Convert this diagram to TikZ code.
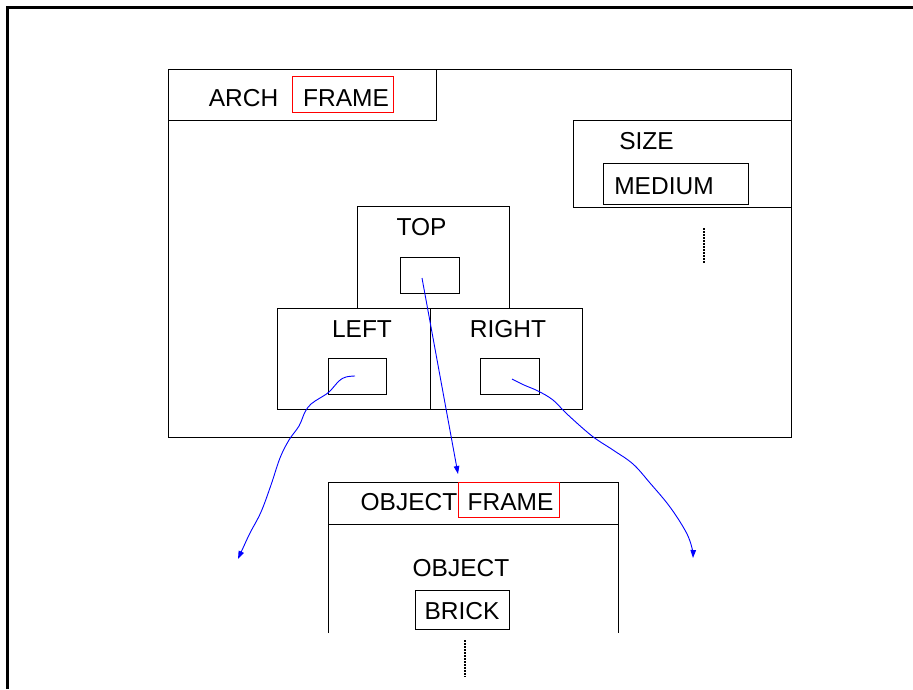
\documentclass[tikz,border=0pt]{standalone}
\usepackage{fontspec}
\setmainfont{Liberation Sans}
\usetikzlibrary{arrows.meta}
\tikzset{
  box/.style={draw, line width=1pt, inner sep=0pt, outer sep=0pt, anchor=north west},
  redbox/.style={box, draw=red, line width=0.9pt},
  open/.style={inner sep=0pt, outer sep=0pt, anchor=north west},
  lbl/.style={inner sep=0pt, outer sep=0pt, text height=18pt, text depth=0pt, font=\fontsize{24.5}{29}\selectfont},
  link/.style={draw=blue, line width=0.9pt, -{Triangle[length=8pt,width=5.5pt]}},
  dots/.style={line width=2pt, dash pattern=on 1.5pt off 1.5pt}
}
\begin{document}
\begin{tikzpicture}[x=1pt,y=-1pt]
\useasboundingbox (0,0) rectangle (913,689);
% outer frame (top and left edges only visible)
\coordinate (fbl) at (7.3,689);
\coordinate (ftl) at (7.3,7.7);
\coordinate (ftr) at (913,7.7);
\draw[line width=2.8pt] (fbl) -- (ftl) -- (ftr);

% ARCH frame
\node[box, minimum width=623, minimum height=368] (arch) at (168,69) {};
\node[box, minimum width=268, minimum height=51] (archhead) at (168,69) {};
\node[lbl] (archt) at (243.5,97) {ARCH};
\node[redbox, minimum width=101, minimum height=36] (archred) at (292,76) {};
\node[lbl] (archframe) at (346,97) {FRAME};

% SIZE slot
\node[box, minimum width=218, minimum height=87] (size) at (573,120) {};
\node[lbl] (sizet) at (646.5,140) {SIZE};
\node[box, minimum width=145, minimum height=41] (medium) at (603,163) {};
\node[lbl] (mediumt) at (664,185) {MEDIUM};
\coordinate (d1a) at (704,228);
\coordinate (d1b) at (704,264);
\draw[dots] (d1a) -- (d1b);

% TOP
\node[box, minimum width=152, minimum height=102] (top) at (357,206) {};
\node[lbl] (topt) at (421.5,226.5) {TOP};
\node[box, minimum width=59, minimum height=36] (topin) at (400,257) {};

% LEFT
\node[box, minimum width=153, minimum height=101] (left) at (277,308) {};
\node[lbl] (leftt) at (362,328.5) {LEFT};
\node[box, minimum width=58, minimum height=36] (leftin) at (328,358) {};

% RIGHT
\node[box, minimum width=152, minimum height=101] (right) at (430,308) {};
\node[lbl] (rightt) at (508,328.5) {RIGHT};
\node[box, minimum width=59, minimum height=36] (rightin) at (480,358) {};

% OBJECT frame (open at bottom)
\node[open, minimum width=290, minimum height=151] (obj) at (328,482) {};
\draw[line width=1pt] (obj.south west) -- (obj.north west) -- (obj.north east) -- (obj.south east);
\node[open, minimum width=290, minimum height=42] (objhead) at (328,482) {};
\draw[line width=1pt] (objhead.south west) -- (objhead.south east);
\node[lbl] (objt) at (409,501.5) {OBJECT};
\node[redbox, minimum width=101, minimum height=35] (objred) at (458,482) {};
\node[lbl] (objframe) at (510.5,501.5) {FRAME};
\node[lbl] (objslot) at (461,567) {OBJECT};
\node[box, minimum width=94, minimum height=39] (brick) at (415,590) {};
\node[lbl] (brickt) at (462,610.5) {BRICK};
\coordinate (d2a) at (465,640);
\coordinate (d2b) at (465,677);
\draw[dots] (d2a) -- (d2b);

% links
\coordinate (ts) at (422,278);
\coordinate (te) at (458,474);
\draw[link] (ts) -- (te);

\coordinate (ls) at (355,376);
\coordinate (le) at (238,559);
\draw[link] plot[smooth, tension=0.6] coordinates {(ls) (346,377) (339,381) (329,392) (320,398) (311,404) (305,412) (299,426) (289,440) (280,458) (271,485) (261,512) (250,533) (243,548) (le)};

\coordinate (rs) at (512,379);
\coordinate (re) at (693,558);
\draw[link] plot[smooth, tension=0.6] coordinates {(rs) (524,385) (538,391) (553,400) (567,414) (592,436) (613,450) (633,464) (650,483) (670,507) (686,532) (692,548) (re)};
\end{tikzpicture}
\end{document}
